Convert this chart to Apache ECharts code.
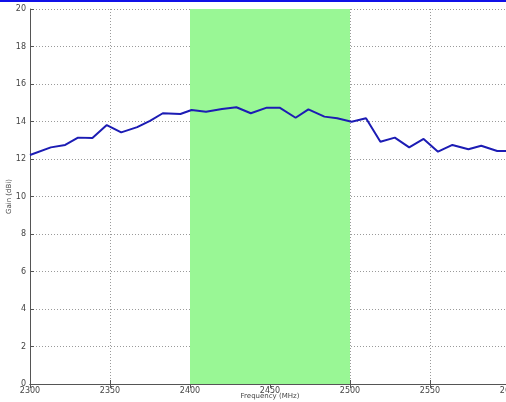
<!DOCTYPE html>
<html>
<head>
<meta charset="utf-8">
<script src="https://cdn.jsdelivr.net/npm/echarts@6/dist/echarts.min.js"></script>
<style>
html,body{margin:0;padding:0;background:#fff;}
#chart{width:506px;height:402px;}
</style>
</head>
<body>
<div id="chart"></div>
<script>
// Frequency (MHz) of each measured point
var frequencies = [2300, 2313, 2322, 2330, 2339, 2348, 2357, 2367, 2375, 2383, 2394, 2401,
  2410, 2420, 2429, 2438, 2448, 2456, 2466, 2474, 2484, 2492, 2501,
  2510, 2519, 2528, 2537, 2546, 2555, 2564, 2574, 2582, 2592, 2600];
// Gain (dBi)
var gains = [12.21, 12.62, 12.75, 13.14, 13.12, 13.81, 13.42, 13.70, 14.03, 14.44, 14.40, 14.61,
  14.52, 14.67, 14.76, 14.44, 14.74, 14.74, 14.20, 14.65, 14.26, 14.17, 13.99,
  14.17, 12.92, 13.14, 12.62, 13.07, 12.39, 12.75, 12.52, 12.71, 12.43, 12.43];
// Highlighted band
var bandStart = 2400, bandEnd = 2500;
var xTicks = {min: 2300, max: 2600, interval: 50};
var yTicks = {min: 0, max: 20, interval: 2};

var points = frequencies.map(function (f, i) { return [f, gains[i]]; });

var chart = echarts.init(document.getElementById('chart'), null, {renderer: 'canvas'});
var axisColor = '#555';
var plain = function (v) { return String(v); };
var labelStyle = {color: '#444', fontSize: 8, fontFamily: 'DejaVu Sans', formatter: plain};
var gridLine = {show: true, lineStyle: {color: '#9a9a9a', type: [1, 2], width: 1}};

chart.setOption({
  animation: false,
  backgroundColor: '#fff',
  grid: {left: 30, right: -4, top: 9, bottom: 18, containLabel: false, outerBoundsMode: 'none'},
  graphic: [{
    type: 'rect', left: 0, top: 0, z: 100,
    shape: {width: 506, height: 2},
    style: {fill: '#1010e8'}
  }],
  xAxis: [{
    type: 'value', min: xTicks.min, max: xTicks.max, interval: xTicks.interval,
    name: 'Frequency (MHz)', nameLocation: 'middle', nameGap: 9, nameMoveOverlap: false,
    nameTextStyle: {color: '#444', fontSize: 7, fontFamily: 'DejaVu Sans'},
    axisLine: {show: true, onZero: false, lineStyle: {color: axisColor, width: 1}},
    axisTick: {show: true, inside: true, length: 4, lineStyle: {color: axisColor}},
    axisLabel: Object.assign({margin: 3}, labelStyle),
    splitLine: gridLine
  }, {
    type: 'value', position: 'top', min: xTicks.min, max: xTicks.max, interval: xTicks.interval,
    axisLine: {show: true, lineStyle: {color: axisColor, width: 1}},
    axisTick: {show: true, inside: true, length: 4, lineStyle: {color: axisColor}},
    axisLabel: {show: false}, splitLine: {show: false}
  }],
  yAxis: [{
    type: 'value', min: yTicks.min, max: yTicks.max, interval: yTicks.interval,
    name: 'Gain (dBi)', nameLocation: 'middle', nameGap: 17, nameRotate: 90, nameMoveOverlap: false,
    nameTextStyle: {color: '#444', fontSize: 7, fontFamily: 'DejaVu Sans'},
    axisLine: {show: true, onZero: false, lineStyle: {color: axisColor, width: 1}},
    axisTick: {show: true, inside: true, length: 4, lineStyle: {color: axisColor}},
    axisLabel: Object.assign({margin: 4}, labelStyle),
    splitLine: gridLine
  }, {
    type: 'value', position: 'right', min: yTicks.min, max: yTicks.max, interval: yTicks.interval,
    axisLine: {show: true, lineStyle: {color: axisColor, width: 1}},
    axisTick: {show: true, inside: true, length: 4, lineStyle: {color: axisColor}},
    axisLabel: {show: false}, splitLine: {show: false}
  }],
  series: [{
    type: 'line',
    data: points,
    symbol: 'none',
    lineStyle: {color: '#1c1cb4', width: 2},
    z: 5,
    markArea: {
      silent: true,
      itemStyle: {color: '#99f795', opacity: 1},
      data: [[{xAxis: bandStart}, {xAxis: bandEnd}]]
    }
  }]
});
</script>
</body>
</html>
